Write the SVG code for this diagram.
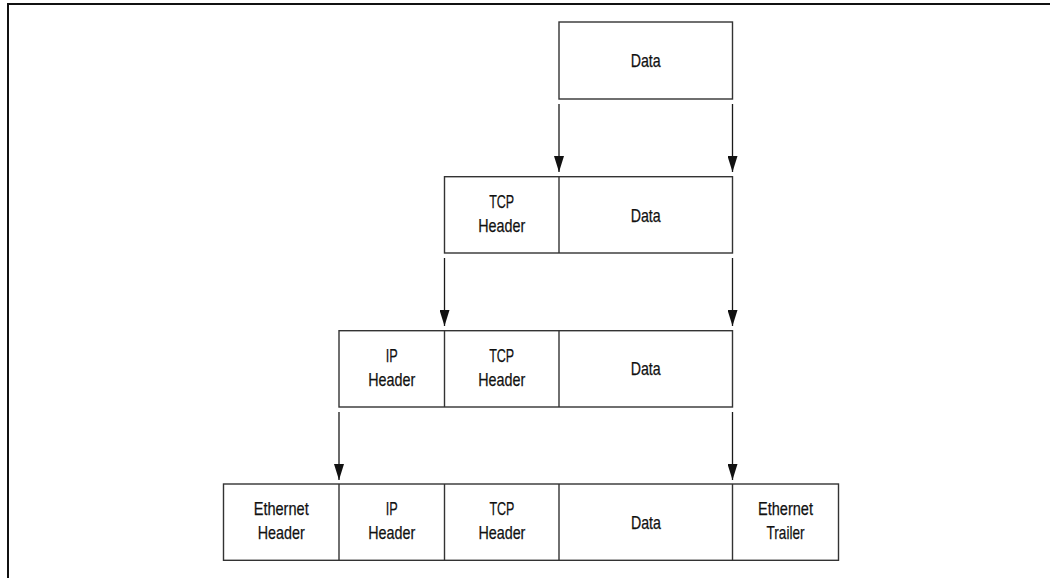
<svg xmlns="http://www.w3.org/2000/svg" width="1050" height="578" viewBox="0 0 1050 578">
<defs>
<style>
.box{fill:#fff;stroke:#333;stroke-width:1.4}
.div{stroke:#333;stroke-width:1.4}
.t{font-family:"Liberation Sans",Arial,sans-serif;font-size:19px;fill:#111;text-anchor:middle;stroke:#111;stroke-width:0.25}
.c{stroke:#1a1a1a;stroke-width:1.3;fill:none}
.frame{stroke:#111;stroke-width:2;fill:none}
</style>
<marker id="ah" markerUnits="userSpaceOnUse" markerWidth="16" markerHeight="10" refX="16" refY="5" orient="auto" viewBox="0 0 16 10">
<path d="M0,0 L16,5 L0,10 Z" fill="#111"/>
</marker>
</defs>
<rect width="1050" height="578" fill="#fff"/>
<path class="frame" d="M8,578 V4 H1050"/>

<g id="row1">
<rect class="box" x="559" y="22" width="173.5" height="77"/>
<text class="t" x="645.7" y="67" textLength="30" lengthAdjust="spacingAndGlyphs">Data</text>
</g>

<g id="row2">
<rect class="box" x="444.5" y="176.7" width="288" height="76.3"/>
<line class="div" x1="559" y1="176.7" x2="559" y2="253"/>
<text class="t" x="501.7" y="208" textLength="25" lengthAdjust="spacingAndGlyphs">TCP</text>
<text class="t" x="501.7" y="232" textLength="47" lengthAdjust="spacingAndGlyphs">Header</text>
<text class="t" x="645.7" y="222" textLength="30" lengthAdjust="spacingAndGlyphs">Data</text>
</g>

<g id="row3">
<rect class="box" x="339" y="330.7" width="393.5" height="76.3"/>
<line class="div" x1="444.5" y1="330.7" x2="444.5" y2="407"/>
<line class="div" x1="559" y1="330.7" x2="559" y2="407"/>
<text class="t" x="391.7" y="362" textLength="12" lengthAdjust="spacingAndGlyphs">IP</text>
<text class="t" x="391.7" y="386" textLength="47" lengthAdjust="spacingAndGlyphs">Header</text>
<text class="t" x="501.7" y="362" textLength="25" lengthAdjust="spacingAndGlyphs">TCP</text>
<text class="t" x="501.7" y="386" textLength="47" lengthAdjust="spacingAndGlyphs">Header</text>
<text class="t" x="645.7" y="375" textLength="30" lengthAdjust="spacingAndGlyphs">Data</text>
</g>

<g id="row4">
<rect class="box" x="223.5" y="484" width="615" height="76.3"/>
<line class="div" x1="339" y1="484" x2="339" y2="560.3"/>
<line class="div" x1="444.5" y1="484" x2="444.5" y2="560.3"/>
<line class="div" x1="559" y1="484" x2="559" y2="560.3"/>
<line class="div" x1="732.5" y1="484" x2="732.5" y2="560.3"/>
<text class="t" x="281.2" y="515" textLength="55" lengthAdjust="spacingAndGlyphs">Ethernet</text>
<text class="t" x="281.2" y="539" textLength="47" lengthAdjust="spacingAndGlyphs">Header</text>
<text class="t" x="391.7" y="515" textLength="12" lengthAdjust="spacingAndGlyphs">IP</text>
<text class="t" x="391.7" y="539" textLength="47" lengthAdjust="spacingAndGlyphs">Header</text>
<text class="t" x="501.9" y="515" textLength="25" lengthAdjust="spacingAndGlyphs">TCP</text>
<text class="t" x="501.9" y="539" textLength="47" lengthAdjust="spacingAndGlyphs">Header</text>
<text class="t" x="645.9" y="529" textLength="30" lengthAdjust="spacingAndGlyphs">Data</text>
<text class="t" x="785.5" y="515" textLength="55" lengthAdjust="spacingAndGlyphs">Ethernet</text>
<text class="t" x="785.5" y="539" textLength="38" lengthAdjust="spacingAndGlyphs">Trailer</text>
</g>

<g id="connectors">
<line class="c" x1="559" y1="104" x2="559" y2="172" marker-end="url(#ah)"/>
<line class="c" x1="732.5" y1="104" x2="732.5" y2="172" marker-end="url(#ah)"/>
<line class="c" x1="444.5" y1="258" x2="444.5" y2="326" marker-end="url(#ah)"/>
<line class="c" x1="732.5" y1="258" x2="732.5" y2="326" marker-end="url(#ah)"/>
<line class="c" x1="339" y1="412" x2="339" y2="480" marker-end="url(#ah)"/>
<line class="c" x1="732.5" y1="412" x2="732.5" y2="480" marker-end="url(#ah)"/>
</g>
</svg>
